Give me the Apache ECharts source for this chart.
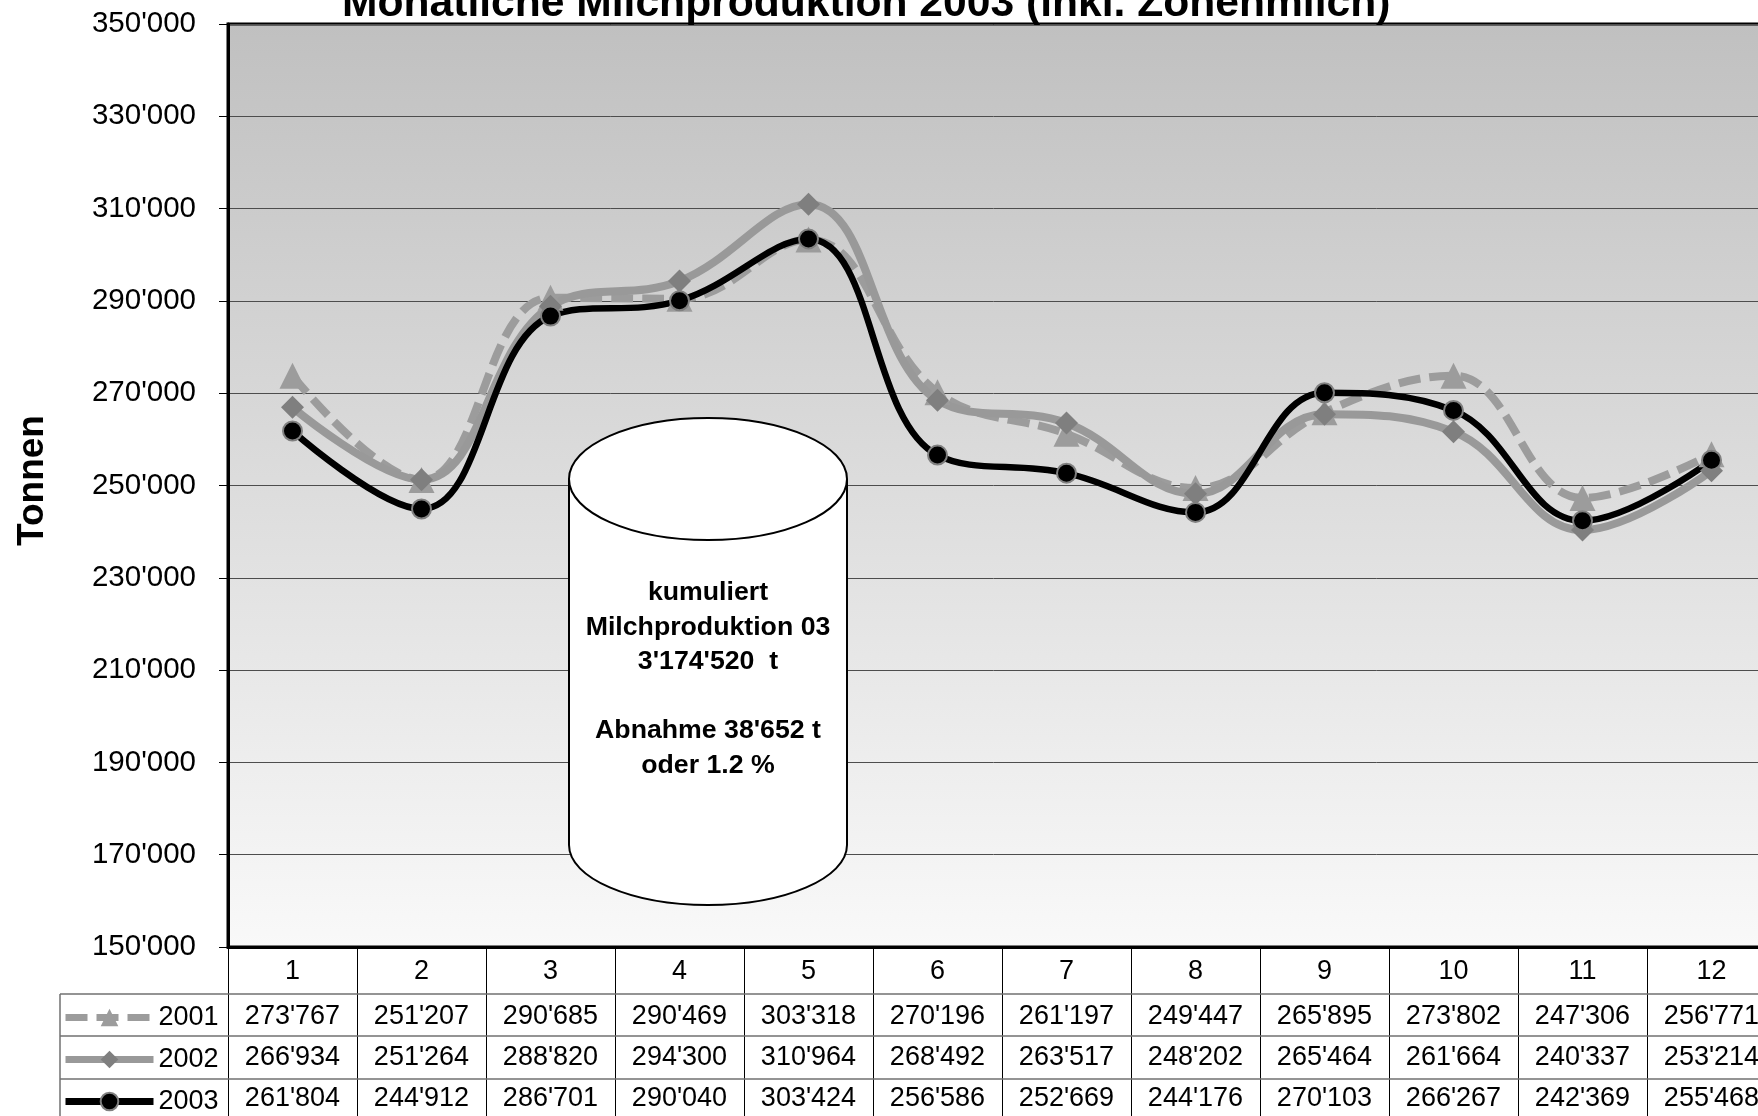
<!DOCTYPE html>
<html>
<head>
<meta charset="utf-8">
<title>Monatliche Milchproduktion 2003</title>
<script src="https://cdn.jsdelivr.net/npm/echarts@6/dist/echarts.min.js"></script>
<style>
html, body { margin: 0; padding: 0; background: #fff; }
#main { width: 1758px; height: 1116px; }
</style>
</head>
<body>
<div id="main"></div>
<script>
// Daten
var monate = ['1', '2', '3', '4', '5', '6', '7', '8', '9', '10', '11', '12']
var jahre = ['2001', '2002', '2003']
var werte2001 = [273767, 251207, 290685, 290469, 303318, 270196, 261197, 249447, 265895, 273802, 247306, 256771]
var werte2002 = [266934, 251264, 288820, 294300, 310964, 268492, 263517, 248202, 265464, 261664, 240337, 253214]
var werte2003 = [261804, 244912, 286701, 290040, 303424, 256586, 252669, 244176, 270103, 266267, 242369, 255468]
var yMin = 150000
var yMax = 350000
var yStep = 20000
var boxText = ['kumuliert', 'Milchproduktion 03', "3'174'520  t", '', "Abnahme 38'652 t", 'oder 1.2 %']

var FONT = "'Liberation Sans', Arial, Helvetica, sans-serif"

function tausender(v) {
    return String(v).replace(/\B(?=(\d{3})+(?!\d))/g, "'")
}

// eine Tabellenzeile unter dem Diagramm = eigene x-Achse
function tabellenZeile(werte, offset) {
    return {
        type: 'category',
        gridIndex: 0,
        position: 'bottom',
        offset: offset,
        data: werte.map(tausender),
        axisLine: { show: false },
        axisTick: { show: false },
        splitLine: { show: false },
        axisLabel: { interval: 0, margin: 0, fontSize: 27, color: '#000', fontFamily: FONT }
    }
}

var mCharts = echarts.init(document.getElementById('main'))

var option = {
    animation: false,
    backgroundColor: '#fff',
    title: {
        text: 'Monatliche Milchproduktion 2003 (inkl. Zonenmilch)',
        left: 342,
        top: -17,
        padding: 0,
        textStyle: { fontSize: 42.6, fontWeight: 'bold', color: '#000', fontFamily: FONT }
    },
    legend: {
        data: jahre,
        orient: 'vertical',
        left: 62,
        top: 1004,
        padding: 0,
        itemWidth: 88,
        itemHeight: 22,
        itemGap: 15,
        selectedMode: false,
        lineStyle: { width: 7 },
        textStyle: { fontSize: 27, color: '#000', fontFamily: FONT }
    },
    grid: {
        left: 228,
        top: 24,
        right: -18,
        bottom: 169,
        show: true,
        borderColor: '#000',
        borderWidth: 3,
        outerBoundsMode: 'none',
        backgroundColor: new echarts.graphic.LinearGradient(0, 0, 0, 1, [
            { offset: 0, color: '#c0c0c0' },
            { offset: 1, color: '#f9f9f9' }
        ])
    },
    xAxis: [
        {
            type: 'category',
            data: monate,
            position: 'bottom',
            axisLine: { show: true, lineStyle: { color: '#000', width: 3 } },
            axisTick: { show: true, length: 169, lineStyle: { color: '#000', width: 1 } },
            axisLabel: { interval: 0, margin: 11, fontSize: 27, color: '#000', fontFamily: FONT },
            splitLine: { show: false }
        },
        tabellenZeile(werte2001, 56),
        tabellenZeile(werte2002, 97),
        tabellenZeile(werte2003, 138)
    ],
    yAxis: {
        type: 'value',
        min: yMin,
        max: yMax,
        interval: yStep,
        name: 'Tonnen',
        nameLocation: 'middle',
        nameGap: 177,
        nameTextStyle: { fontSize: 37, fontWeight: 'bold', color: '#000', fontFamily: FONT, padding: [0, 0, 0, 10] },
        axisLine: { show: true, lineStyle: { color: '#000', width: 3 } },
        axisTick: { show: true, length: 9, lineStyle: { color: '#000', width: 1 } },
        axisLabel: { margin: 32, fontSize: 29.5, color: '#000', fontFamily: FONT, formatter: tausender },
        splitLine: { show: true, lineStyle: { color: '#4d4d4d', width: 1 } }
    },
    series: [
        {
            name: '2001',
            type: 'line',
            data: werte2001,
            smooth: 0.4,
            symbol: 'triangle',
            symbolSize: 26,
            lineStyle: { color: '#9c9c9c', width: 8, type: [22, 9] },
            itemStyle: { color: '#9c9c9c' }
        },
        {
            name: '2002',
            type: 'line',
            data: werte2002,
            smooth: 0.4,
            symbol: 'diamond',
            symbolSize: 23,
            lineStyle: { color: '#999999', width: 8 },
            itemStyle: { color: '#7f7f7f' }
        },
        {
            name: '2003',
            type: 'line',
            data: werte2003,
            smooth: 0.4,
            symbol: 'circle',
            symbolSize: 19,
            lineStyle: { color: '#000', width: 6.5 },
            itemStyle: { color: '#000', borderColor: '#808080', borderWidth: 2 }
        }
    ],
    graphic: [
        // Tabellenlinien
        { type: 'line', z: 50, shape: { x1: 60, y1: 994, x2: 1758, y2: 994 }, style: { stroke: '#707070', lineWidth: 1.5 } },
        { type: 'line', z: 50, shape: { x1: 60, y1: 1036, x2: 1758, y2: 1036 }, style: { stroke: '#707070', lineWidth: 1.5 } },
        { type: 'line', z: 50, shape: { x1: 60, y1: 1079, x2: 1758, y2: 1079 }, style: { stroke: '#707070', lineWidth: 1.5 } },
        { type: 'line', z: 50, shape: { x1: 60, y1: 994, x2: 60, y2: 1116 }, style: { stroke: '#707070', lineWidth: 1.5 } },
        // Zylinder
        { type: 'ellipse', z: 50, shape: { cx: 708, cy: 845, rx: 139, ry: 60 }, style: { fill: '#fff', stroke: '#000', lineWidth: 2 } },
        { type: 'rect', z: 51, shape: { x: 569, y: 479, width: 278, height: 366 }, style: { fill: '#fff' } },
        { type: 'line', z: 52, shape: { x1: 569, y1: 479, x2: 569, y2: 845 }, style: { stroke: '#000', lineWidth: 2 } },
        { type: 'line', z: 52, shape: { x1: 847, y1: 479, x2: 847, y2: 845 }, style: { stroke: '#000', lineWidth: 2 } },
        { type: 'ellipse', z: 52, shape: { cx: 708, cy: 479, rx: 139, ry: 61 }, style: { fill: '#fff', stroke: '#000', lineWidth: 2 } },
        {
            type: 'text',
            z: 53,
            x: 708,
            y: 679,
            style: {
                text: boxText.join('\n'),
                fill: '#000',
                font: 'bold 26.7px ' + FONT,
                lineHeight: 34.5,
                align: 'center',
                verticalAlign: 'middle'
            }
        }
    ]
}
mCharts.setOption(option)
</script>
</body>
</html>
